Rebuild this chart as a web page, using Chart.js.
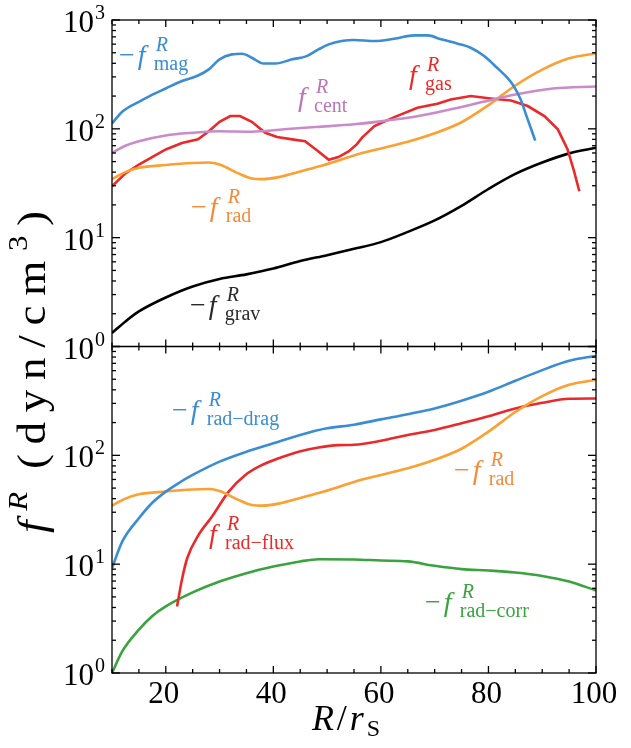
<!DOCTYPE html>
<html>
<head>
<meta charset="utf-8">
<script src="https://cdn.jsdelivr.net/npm/chart.js@4.4.0/dist/chart.umd.min.js"></script>
<style>
  html, body { margin: 0; padding: 0; background: #fff; }
</style>
</head>
<body>
<canvas id="forceChart" width="631" height="748"></canvas>
<script>
// radial force terms vs R/r_S, f^R in dyn/cm^3

// upper panel
const magR  = [10, 12, 15, 17, 20, 23, 26, 28, 30, 32.3, 34.2, 36, 38.2, 40.4, 43.5, 46.2, 48.4, 50.3, 52.7, 55, 58.8, 62.5, 66.2, 68.7, 71.2, 74.3, 76.7, 79.2, 81.6, 83.5, 84.7, 86, 87.2, 88.7];
const magF  = [112, 145, 177, 200, 235, 275, 309, 352, 435, 483, 490, 450, 398, 398, 435, 466, 537, 597, 641, 655, 641, 673, 722, 722, 664, 606, 556, 466, 364, 295, 247, 186, 126, 78];

const centR = [10, 12.5, 15, 20, 25, 30, 36, 42, 48, 55, 60, 67, 73, 79, 85, 92, 100];
const centF = [60, 70, 77, 87, 92, 95, 94, 99, 104, 110, 117, 131, 151, 177, 207, 235, 245];

const gasR  = [10, 12.5, 15, 20, 23, 26, 28, 30, 32, 33.8, 36, 38.5, 40.7, 43.5, 45.9, 48.4, 50.3, 52.1, 54, 55.5, 56.5, 58.8, 62.5, 66.8, 70.5, 73, 76.7, 80.4, 84.2, 87.3, 90.4, 92.9, 94.7, 95.9, 96.9];
const gasF  = [29.7, 39, 47, 64.6, 74, 80, 95, 116, 131, 131, 116, 92, 84, 80, 77, 62, 52, 55, 62, 72, 83, 106, 128, 156, 170, 186, 200, 190, 182, 162, 131, 99, 65, 41, 26.7];

const gravR = [10, 12.5, 15, 20, 25, 30, 35, 40, 45, 50, 55, 60, 65, 70, 75, 80, 85, 90, 95, 100];
const gravF = [1.33, 1.7, 2.1, 2.82, 3.56, 4.17, 4.6, 5.2, 6.1, 6.9, 7.9, 9.1, 11.3, 14.4, 19.6, 28, 38.5, 49, 59.5, 67];

// -f_rad, shown in both panels
const radR  = [10, 12.5, 15, 20, 25, 28, 30, 33.5, 36, 38, 41, 45, 48.4, 52, 55, 60, 65, 70, 75, 80, 85, 90, 95, 100];
const radF  = [34.5, 40, 43.8, 46.5, 48.5, 49, 47, 39, 35, 34.5, 36, 40.5, 45, 51, 57, 66, 76, 91, 115, 165, 250, 350, 445, 495];

// lower panel
const dragR = [10, 11.9, 15, 17.4, 20, 22.5, 25, 30, 35, 40, 45, 50, 55, 60, 65, 70, 75, 80, 85, 90, 95, 100];
const dragF = [9.2, 16.1, 26.4, 36.3, 46.4, 56, 66, 87.5, 108, 129, 154, 177, 191, 214, 239, 270, 318, 384, 484, 607, 739, 821];

const fluxR = [22.1, 23, 24, 26.1, 28.6, 31.7, 34.8, 37.9, 41, 44.7, 48.4, 52.1, 55, 60, 65, 70, 75, 80, 85, 90, 95, 100];
const fluxF = [4.09, 7.2, 11.4, 18.6, 27.4, 46.4, 66, 81.5, 94, 108, 118, 124, 125, 136, 154, 171, 197, 229, 270, 304, 331, 333];

const corrR = [10, 11.9, 15, 17.4, 20, 25, 30, 35, 40, 45, 48.4, 55, 60, 65, 70, 75, 80, 85, 90, 95, 100];
const corrF = [1.0, 1.58, 2.5, 3.31, 4.09, 5.5, 6.93, 8.27, 9.5, 10.6, 11.1, 11.05, 10.8, 10.6, 9.66, 9.0, 8.75, 8.39, 7.8, 6.93, 5.73];

const xTicks = [20, 40, 60, 80, 100];
const topExps = [0, 1, 2, 3];
const botExps = [0, 1, 2];

const SERIF = '"Liberation Serif", "DejaVu Serif", serif';
const BLUE = '#3a8dd3', RED = '#ea2a2a', ORANGE = '#fca033', PURPLE = '#c98bc9', GREEN = '#3aa23f', BLACK = '#000000';

function pts(rs, fs) {
  return rs.map((r, i) => ({x: r, y: fs[i]}));
}

function series(rs, fs, color, axis, smooth) {
  return {
    data: pts(rs, fs),
    borderColor: color,
    borderWidth: 2.6,
    pointRadius: 0,
    fill: false,
    yAxisID: axis,
    cubicInterpolationMode: smooth ? 'monotone' : 'default',
    tension: 0
  };
}

function line(ctx, x1, y1, x2, y2) {
  ctx.beginPath();
  ctx.moveTo(x1, y1);
  ctx.lineTo(x2, y2);
  ctx.stroke();
}

// f^R_sub with optional leading minus
function mathLabel(ctx, x, y, sub, color, minus) {
  const size = 28, s = 20;
  ctx.fillStyle = color;
  ctx.textAlign = 'left';
  ctx.textBaseline = 'alphabetic';
  let cx = x;
  if (minus) {
    ctx.font = `${size}px ${SERIF}`;
    ctx.fillText('\u2212', cx, y);
    cx += ctx.measureText('\u2212').width + 3;
  }
  ctx.font = `italic ${size}px ${SERIF}`;
  ctx.fillText('f', cx, y);
  ctx.font = `italic ${s}px ${SERIF}`;
  ctx.fillText('R', cx + 18, y - 13);
  ctx.font = `${s}px ${SERIF}`;
  ctx.fillText(sub, cx + 16, y + 6);
}

function powLabel(ctx, xr, py, exp) {
  ctx.textAlign = 'left';
  ctx.textBaseline = 'alphabetic';
  ctx.font = `20px ${SERIF}`;
  const ew = ctx.measureText(String(exp)).width;
  ctx.font = `31px ${SERIF}`;
  const bw = ctx.measureText('10').width;
  const x0 = xr - ew - bw - 1;
  ctx.fillText('10', x0, py + 12);
  ctx.font = `20px ${SERIF}`;
  ctx.fillText(String(exp), x0 + bw + 1, py - 1);
}

// draw glyph runs one by one, spreading them over a given length
function spreadText(ctx, runs, x0, y0, length) {
  const glyphs = [];
  runs.forEach(r => {
    for (const ch of r.t) glyphs.push({ch, f: r.f, dy: r.dy, pre: r.pre || 0});
  });
  let natural = 0;
  glyphs.forEach(g => { ctx.font = g.f; g.w = ctx.measureText(g.ch).width; natural += g.w + g.pre; });
  const extra = (length - natural) / (glyphs.length - 1);
  let px = x0;
  glyphs.forEach(g => {
    px += g.pre;
    ctx.font = g.f;
    ctx.fillText(g.ch, px, y0 + g.dy);
    px += g.w + extra;
  });
}

const frame = {
  id: 'frame',
  afterDraw(chart) {
    const {ctx, chartArea: a, scales} = chart;
    const x = scales.x;
    ctx.save();
    ctx.strokeStyle = '#000';
    ctx.fillStyle = '#000';
    ctx.lineWidth = 1.3;

    [scales.yTop, scales.yBot].forEach(y => {
      ctx.strokeRect(a.left, y.top, a.right - a.left, y.bottom - y.top);
      for (let v = 10; v <= 100; v += 5) {
        const px = x.getPixelForValue(v);
        const len = v % 20 === 0 ? 7 : 4;
        line(ctx, px, y.bottom, px, y.bottom - len);
        line(ctx, px, y.top, px, y.top + len);
      }
      for (let d = 0; d <= 3; d++) {
        for (let m = 1; m < 10; m++) {
          const v = m * Math.pow(10, d);
          if (v > 1000) break;
          const py = y.getPixelForValue(v);
          const len = m === 1 ? 8 : 4;
          line(ctx, a.left, py, a.left + len, py);
          line(ctx, a.right, py, a.right - len, py);
        }
      }
    });

    // tick labels
    topExps.forEach(e => powLabel(ctx, a.left - 7, scales.yTop.getPixelForValue(Math.pow(10, e)), e));
    botExps.forEach(e => powLabel(ctx, a.left - 7, scales.yBot.getPixelForValue(Math.pow(10, e)), e));
    ctx.font = `31px ${SERIF}`;
    ctx.textAlign = 'center';
    ctx.textBaseline = 'alphabetic';
    xTicks.forEach(v => ctx.fillText(String(v), x.getPixelForValue(v) - 2, a.bottom + 30));

    // x title R/r_S
    ctx.textAlign = 'left';
    spreadText(ctx, [
      {t: 'R', f: `italic 36px ${SERIF}`, dy: 0},
      {t: '/', f: `36px ${SERIF}`, dy: 0},
      {t: 'r', f: `italic 36px ${SERIF}`, dy: 0},
      {t: 'S', f: `24px ${SERIF}`, dy: 6}
    ], 312, a.bottom + 57, 68);

    // y title f^R (dyn/cm^3), reading upwards
    ctx.save();
    ctx.translate(45, 533);
    ctx.rotate(-Math.PI / 2);
    ctx.scale(1.1, 1);
    const F = 41, S = 28;
    spreadText(ctx, [
      {t: 'f', f: `italic ${F}px ${SERIF}`, dy: 0},
      {t: 'R', f: `italic ${S}px ${SERIF}`, dy: -18},
      {t: '(', f: `${F}px ${SERIF}`, dy: 0, pre: 12},
      {t: 'dyn/cm', f: `${F}px ${SERIF}`, dy: 0},
      {t: '3', f: `${S}px ${SERIF}`, dy: -18},
      {t: ')', f: `${F}px ${SERIF}`, dy: 0}
    ], 0, 0, 322 / 1.1);
    ctx.restore();

    // curve labels
    mathLabel(ctx, 119, 64, 'mag', BLUE, true);
    mathLabel(ctx, 298, 106, 'cent', '#b877b8', false);
    mathLabel(ctx, 409, 84, 'gas', RED, false);
    mathLabel(ctx, 191, 216, 'rad', '#f58a3a', true);
    mathLabel(ctx, 190, 314, 'grav', '#2a2a2a', true);
    mathLabel(ctx, 172, 419, 'rad\u2212drag', BLUE, true);
    mathLabel(ctx, 209, 543, 'rad\u2212flux', RED, false);
    mathLabel(ctx, 454, 479, 'rad', '#f58a3a', true);
    mathLabel(ctx, 425, 611, 'rad\u2212corr', GREEN, true);
    ctx.restore();
  }
};

new Chart(document.getElementById('forceChart'), {
  type: 'line',
  data: {
    datasets: [
      series(magR, magF, BLUE, 'yTop', true),
      series(centR, centF, PURPLE, 'yTop', true),
      series(radR, radF, ORANGE, 'yTop', true),
      series(gasR, gasF, RED, 'yTop', false),
      series(gravR, gravF, BLACK, 'yTop', true),
      series(dragR, dragF, BLUE, 'yBot', true),
      series(radR, radF, ORANGE, 'yBot', true),
      series(fluxR, fluxF, RED, 'yBot', true),
      series(corrR, corrF, GREEN, 'yBot', true)
    ]
  },
  options: {
    responsive: false,
    animation: false,
    layout: { padding: { left: 112, right: 35, top: 20, bottom: 75 } },
    plugins: { legend: { display: false }, tooltip: { enabled: false } },
    scales: {
      x: { type: 'linear', min: 10, max: 100, display: false },
      yBot: { type: 'logarithmic', min: 1, max: 1000, position: 'left', stack: 'panels', stackWeight: 1, weight: 0, display: false },
      yTop: { type: 'logarithmic', min: 1, max: 1000, position: 'left', stack: 'panels', stackWeight: 1, weight: 1, display: false }
    }
  },
  plugins: [frame]
});
</script>
</body>
</html>
